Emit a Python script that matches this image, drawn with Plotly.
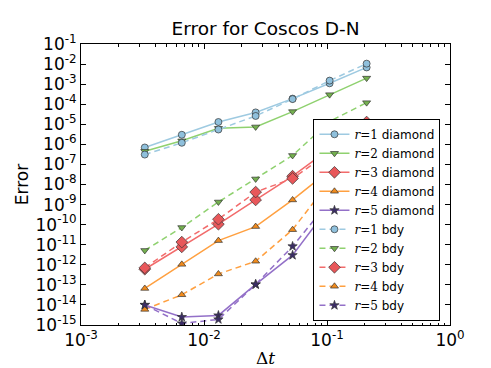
import plotly.graph_objects as go

dt = [0.0033, 0.0066, 0.0131, 0.0263, 0.0525, 0.105, 0.21]

r1_diamond = [7e-7, 3e-6, 1.3e-5, 3.9e-5, 1.9e-4, 1.1e-3, 6.8e-3]
r2_diamond = [4.5e-7, 1.5e-6, 6.3e-6, 7.4e-6, 4.3e-5, 3e-4, 2e-3]
r3_diamond = [6e-13, 7.8e-12, 1.05e-10, 1.7e-9, 2.6e-8, 6e-7, 1.3e-5]
r4_diamond = [6.6e-14, 1.05e-12, 1.6e-11, 8e-11, 1.7e-9, 5e-8, 1.1e-6]
r5_diamond = [1e-14, 2.5e-15, 3e-15, 1.05e-13, 3e-12, 8.5e-10, 2.4e-7]

r1_bdy = [3.1e-7, 1.2e-6, 5.5e-6, 2.6e-5, 1.8e-4, 1.5e-3, 1.05e-2]
r2_bdy = [5.2e-12, 7.2e-11, 1.35e-9, 1.9e-8, 2.8e-7, 1.4e-5, 1.2e-4]
r3_bdy = [7e-13, 1.35e-11, 1.86e-10, 4.2e-9, 2e-8, 4e-7, 1.2e-6]
r4_bdy = [6e-15, 3.2e-14, 3.5e-13, 1.5e-12, 5.6e-11, 1.4e-8, 2e-7]
r5_bdy = [1e-14, 1.2e-15, 1.9e-15, 1.05e-13, 8.3e-12, 1.5e-9, 2.7e-7]

# (line colour, marker fill, symbol, size)
estilos = [
    ("#9ecae1", "#8fc0dc", "circle", 7),
    ("#8fd16f", "#74b04f", "triangle-down", 7),
    ("#f26b6b", "#e8575a", "diamond", 9),
    ("#ffa040", "#f08a1c", "triangle-up", 7),
    ("#9370c8", "#3b2d66", "star", 7),
]

serie_diamond = [r1_diamond, r2_diamond, r3_diamond, r4_diamond, r5_diamond]
serie_bdy = [r1_bdy, r2_bdy, r3_bdy, r4_bdy, r5_bdy]

fig = go.Figure()

def etiqueta(r, tipo):
    return "<span style='font-family:DejaVu Serif'><i>r</i>=%d</span> %s" % (r, tipo)

for i, ys in enumerate(serie_diamond):
    lc, mc, sym, sz = estilos[i]
    fig.add_scatter(
        x=dt, y=ys, mode="lines+markers", name=etiqueta(i + 1, "diamond"),
        line=dict(color=lc, width=1.5),
        marker=dict(symbol=sym, size=sz, color=mc, line=dict(color="#333333", width=0.7)),
    )
for i, ys in enumerate(serie_bdy):
    lc, mc, sym, sz = estilos[i]
    fig.add_scatter(
        x=dt, y=ys, mode="lines+markers", name=etiqueta(i + 1, "bdy"),
        line=dict(color=lc, width=1.5, dash="6px,4px"),
        marker=dict(symbol=sym, size=sz, color=mc, line=dict(color="#333333", width=0.7)),
    )

xt = [1e-3, 1e-2, 1e-1, 1e0]
xt_txt = ["10<sup>-3</sup>", "10<sup>-2</sup>", "10<sup>-1</sup>", "10<sup>0</sup>"]
yt = [10.0 ** (-k) for k in range(1, 16)]
yt_txt = ["10<sup>-%d</sup>" % k for k in range(1, 16)]
x_minor = [m * 10.0 ** e for e in (-3, -2, -1) for m in range(2, 10)]

fig.update_layout(
    width=491, height=368,
    margin=dict(l=73, r=49, t=36, b=45),
    plot_bgcolor="white", paper_bgcolor="white",
    font=dict(family="DejaVu Sans", size=17, color="black"),
    title=dict(text="Error for Coscos D-N", x=0.5, xref="paper", xanchor="center",
               y=0.945, yref="container", yanchor="middle", font=dict(size=18.5)),
    showlegend=True,
    legend=dict(x=0.63, y=0.015, xanchor="left", yanchor="bottom",
                bgcolor="white", bordercolor="black", borderwidth=1,
                font=dict(size=12), tracegroupgap=0, itemwidth=30),
    xaxis=dict(type="log", range=[-3, 0], tickvals=xt, ticktext=xt_txt,
               ticks="inside", ticklen=5, tickcolor="black", showline=True,
               linecolor="black", linewidth=1, mirror="ticks", showgrid=False,
               zeroline=False,
               minor=dict(tickvals=x_minor, ticks="inside", ticklen=2.5, tickcolor="black", showgrid=False),
               title=dict(text="<span style='font-family:DejaVu Serif'>Δ<i>t</i></span>",
                          standoff=2, font=dict(size=17))),
    yaxis=dict(type="log", range=[-15, -1], tickvals=yt, ticktext=yt_txt,
               ticks="inside", ticklen=5, tickcolor="black", showline=True,
               linecolor="black", linewidth=1, mirror="ticks", showgrid=False,
               zeroline=False,
               title=dict(text="Error", standoff=2, font=dict(size=17))),
)

fig.write_html("out.html")
